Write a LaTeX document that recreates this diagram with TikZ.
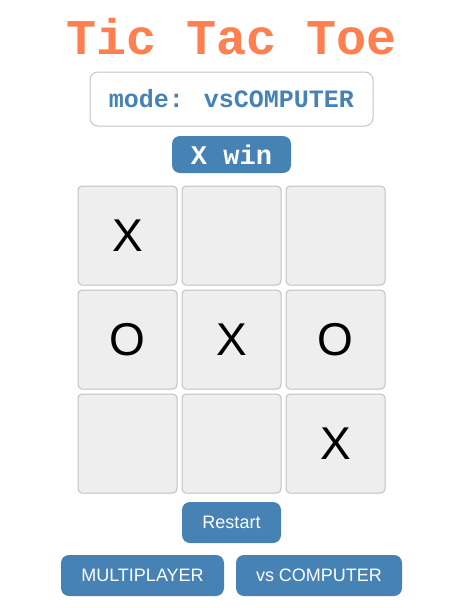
\documentclass[tikz,border=0pt]{standalone}
\usepackage{fontspec}
\setmainfont{Liberation Sans}
\newfontfamily\monobf{Liberation Mono}[BoldFont={Liberation Mono Bold}]
\definecolor{coral}{HTML}{FF7F50}
\definecolor{steel}{HTML}{4682B4}
\definecolor{cellfill}{HTML}{EEEEEE}
\definecolor{cellline}{HTML}{C2C2C2}
\definecolor{boxline}{HTML}{C4C4C4}
\tikzset{
  x=1pt, y=-1pt,
  cellbox/.style={draw=cellline, fill=cellfill, line width=1pt, rounded corners=4pt,
    minimum width=99pt, minimum height=99pt, inner sep=0pt,
    font=\fontsize{46}{48}\selectfont, text=black},
  bluebtn/.style={draw=none, fill=steel, rounded corners=8pt, inner sep=0pt,
    text=white, font=\fontsize{18}{20}\selectfont, minimum height=41pt},
}
\begin{document}
\begin{tikzpicture}
\useasboundingbox (0,0) rectangle (474,608);
% title
\node[anchor=base, text=coral, font=\monobf\bfseries\fontsize{50}{52}\selectfont, inner sep=0pt] (title) at (231.5,54) {Tic Tac Toe};
% mode box
\node[draw=boxline, line width=1pt, fill=white, rounded corners=8pt, minimum width=283pt, minimum height=54pt, inner sep=0pt,
  text=steel, font=\monobf\bfseries\fontsize{25}{27}\selectfont] (mode) at (231.5,99) {mode: vsCOMPUTER};
% status
\node[bluebtn, minimum width=119pt, minimum height=37pt, font=\monobf\bfseries\fontsize{27}{29}\selectfont] (status) at (231.5,154.5) {X win};
% grid
\node[cellbox] (c11) at (127.5,235.5) {X};
\node[cellbox] (c12) at (231.5,235.5) {};
\node[cellbox] (c13) at (335.5,235.5) {};
\node[cellbox] (c21) at (127.5,339.5) {O};
\node[cellbox] (c22) at (231.5,339.5) {X};
\node[cellbox] (c23) at (335.5,339.5) {O};
\node[cellbox] (c31) at (127.5,443.5) {};
\node[cellbox] (c32) at (231.5,443.5) {};
\node[cellbox] (c33) at (335.5,443.5) {X};
% buttons
\node[bluebtn, minimum width=99pt] (restart) at (231.5,522.5) {Restart};
\node[bluebtn, minimum width=163pt] (multi) at (142.5,575.5) {MULTIPLAYER};
\node[bluebtn, minimum width=166pt] (vscomp) at (319,575.5) {vs COMPUTER};
\end{tikzpicture}
\end{document}
